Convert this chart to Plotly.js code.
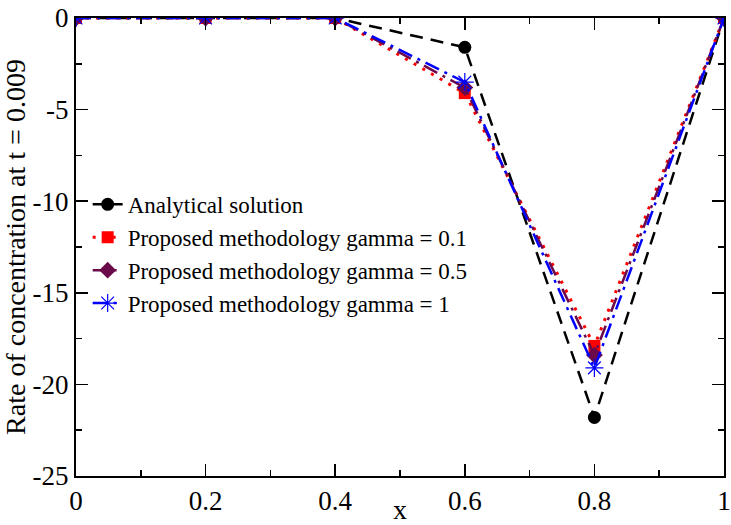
<!DOCTYPE html>
<html>
<head>
<meta charset="utf-8">
<script src="https://cdn.plot.ly/plotly-3.0.1.min.js"></script>
<style>html,body{margin:0;padding:0;background:#fff;}#chart{width:731px;height:525px;}</style>
</head>
<body>
<div id="chart"></div>
<script>
var xValues = [0, 0.2, 0.4, 0.6, 0.8, 1];
var analytical = [0, 0, 0, -1.6, -21.8, 0];
var gamma01 = [0, 0, 0, -4.1, -17.9, 0];
var gamma05 = [0, 0, 0, -3.8, -18.4, 0];
var gamma1 = [0, 0, 0, -3.5, -19.1, 0];
var seriesNames = ["Analytical solution", "Proposed methodology gamma = 0.1", "Proposed methodology gamma = 0.5", "Proposed methodology gamma = 1"];
var xTicks = [0, 0.2, 0.4, 0.6, 0.8, 1];
var xTickLabels = ["0", "0.2", "0.4", "0.6", "0.8", "1"];
var xMinorTicks = [0.1, 0.3, 0.5, 0.7, 0.9];
var yTicks = [0, -5, -10, -15, -20, -25];
var yTickLabels = ["0", "-5", "-10", "-15", "-20", "-25"];
var yMinorTicks = [-2.5, -7.5, -12.5, -17.5, -22.5];

var FONT = "Liberation Serif";
var TICKSIZE = 27;

var traces = [
  {x: xValues, y: analytical, name: seriesNames[0], mode: "lines+markers",
   line: {color: "#000000", width: 2.5, dash: "13px,8px"},
   marker: {symbol: "circle", size: 13, color: "#000000"}},
  {x: xValues, y: gamma01, name: seriesNames[1], mode: "lines+markers",
   line: {color: "#ff0000", width: 3, dash: "3px,7px"},
   marker: {symbol: "square", size: 12, color: "#ff0000"}},
  {x: xValues, y: gamma05, name: seriesNames[2], mode: "lines+markers",
   line: {color: "#6b0a4a", width: 2.5, dash: "15px,6px,3px,6px"},
   marker: {symbol: "diamond", size: 13, color: "#6b0a4a"}},
  {x: xValues, y: gamma1, name: seriesNames[3], mode: "lines+markers",
   line: {color: "#0000ff", width: 2.5, dash: "15px,6px,3px,6px"},
   marker: {symbol: "asterisk-open", size: 15, color: "#0000ff", line: {color: "#0000ff", width: 1.2}}},
  {x: [null], y: [null], xaxis: "x2", yaxis: "y2", showlegend: false, hoverinfo: "skip", mode: "markers"}
];

function makeAxis(range, tickvals, ticktext, titleText) {
  return {
    range: range, tickmode: "array", tickvals: tickvals, ticktext: ticktext,
    showgrid: false, zeroline: false, showline: true, linecolor: "#000", linewidth: 2,
    mirror: "ticks", ticks: "inside", ticklen: 12, tickwidth: 1.5, tickcolor: "#000",
    tickfont: {family: FONT, size: TICKSIZE, color: "#000"},
    title: {text: titleText, font: {family: FONT, size: 28, color: "#000"}, standoff: 0}
  };
}

function makeMinorAxis(range, tickvals, overlay, side) {
  return {
    range: range, tickmode: "array", tickvals: tickvals, showticklabels: false,
    showgrid: false, zeroline: false, showline: false, overlaying: overlay, side: side,
    mirror: "ticks", ticks: "inside", ticklen: 6, tickwidth: 1.5, tickcolor: "#000"
  };
}

var layout = {
  width: 731, height: 525,
  margin: {l: 76, r: 7, t: 18, b: 49},
  paper_bgcolor: "#fff", plot_bgcolor: "#fff",
  font: {family: FONT, size: TICKSIZE, color: "#000"},
  showlegend: true,
  legend: {x: 0.018, y: 0.64, xanchor: "left", yanchor: "top", bgcolor: "rgba(0,0,0,0)",
           font: {family: FONT, size: 23, color: "#000"}, tracegroupgap: 0},
  xaxis: makeAxis([0, 1], xTicks, xTickLabels, "x"),
  yaxis: makeAxis([-25, 0], yTicks, yTickLabels, "Rate of concentration at t = 0.009"),
  xaxis2: makeMinorAxis([0, 1], xMinorTicks, "x", "bottom"),
  yaxis2: makeMinorAxis([-25, 0], yMinorTicks, "y", "left")
};

Plotly.newPlot("chart", traces, layout, {displayModeBar: false, staticPlot: true});
</script>
</body>
</html>
